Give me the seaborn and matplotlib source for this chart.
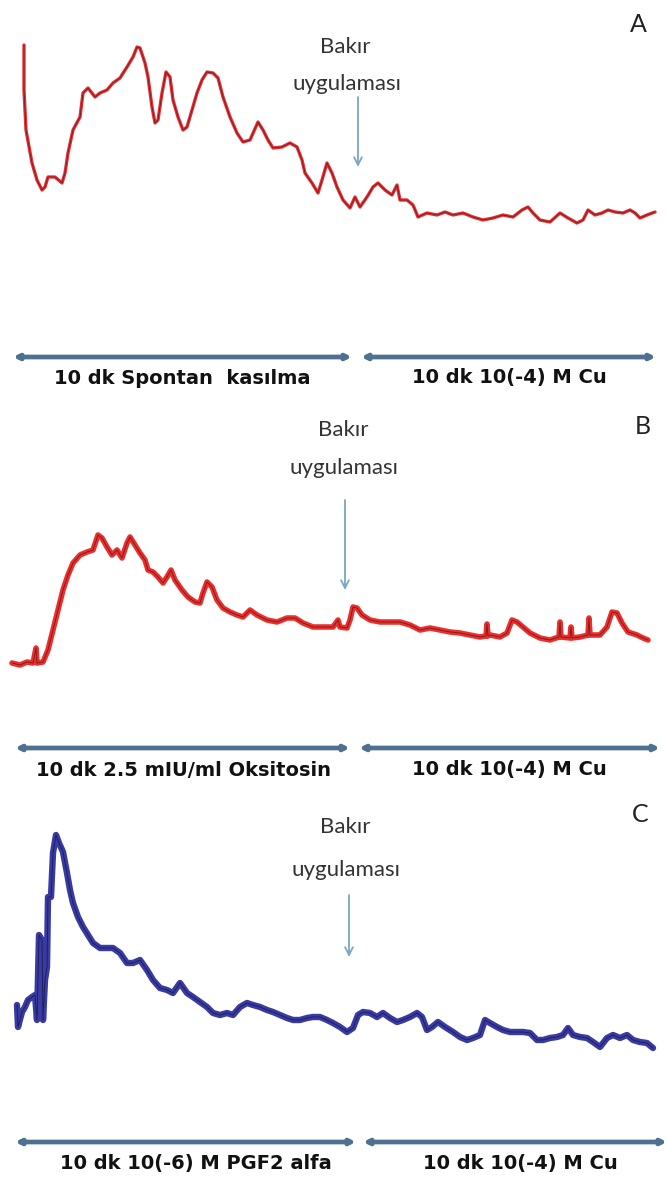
import matplotlib
matplotlib.use("Agg")
import matplotlib.pyplot as plt
import seaborn as sns

# Chart position along the recording paper (same units for all three traces)
# and the pen deflection for each panel.
a_t = [24, 24, 26, 32, 37, 42, 45, 48, 55, 62,
       65, 68, 73, 80, 83, 88, 95, 100, 107, 113,
       120, 127, 133, 137, 140, 145, 148, 152, 155, 158,
       162, 166, 170, 173, 178, 183, 187, 192, 197, 202,
       207, 213, 218, 223, 230, 237, 243, 250, 258, 263,
       268, 273, 282, 290, 297, 302, 305, 312, 318, 322,
       327, 332, 337, 343, 350, 355, 360, 367, 373, 378,
       385, 392, 397, 400, 407, 413, 418, 427, 437, 445,
       453, 463, 473, 483, 493, 503, 513, 522, 528, 533,
       540, 550, 560, 568, 577, 583, 588, 595, 602, 608,
       615, 623, 630, 635, 640, 647, 655]
a_amp = [185, 140, 100, 67, 50, 40, 43, 53, 53, 47,
         57, 77, 100, 113, 137, 142, 133, 137, 140, 147,
         152, 163, 173, 183, 182, 167, 153, 123, 107, 110,
         137, 158, 153, 130, 113, 100, 103, 120, 137, 150,
         158, 157, 152, 133, 113, 97, 88, 90, 108, 100,
         90, 82, 83, 87, 83, 70, 57, 47, 37, 50,
         67, 57, 43, 30, 22, 33, 23, 33, 43, 47,
         40, 35, 45, 30, 30, 25, 13, 17, 15, 18,
         15, 17, 13, 10, 12, 15, 13, 20, 23, 17,
         10, 8, 17, 12, 7, 10, 20, 15, 17, 20,
         18, 17, 20, 17, 12, 15, 18]

b_t = [12, 20, 27, 33, 36, 37, 43, 48, 53, 58,
       63, 68, 73, 80, 87, 93, 98, 102, 107, 112,
       117, 122, 127, 130, 135, 140, 145, 148, 153, 158,
       163, 167, 171, 175, 182, 188, 195, 200, 203, 207,
       212, 217, 223, 230, 237, 243, 250, 257, 267, 277,
       287, 295, 303, 313, 323, 333, 338, 340, 347, 350,
       353, 357, 362, 370, 380, 390, 400, 410, 420, 430,
       440, 450, 460, 470, 480, 486, 487, 488, 490, 500,
       507, 512, 517, 523, 530, 540, 550, 559, 560, 561,
       570, 571, 572, 580, 588, 589, 590, 600, 607, 612,
       617, 622, 628, 637, 643, 648]
b_amp = [17, 15, 18, 17, 32, 17, 18, 30, 50, 70,
         90, 105, 117, 125, 128, 130, 145, 142, 133, 125,
         130, 122, 137, 143, 135, 127, 120, 110, 108, 103,
         97, 103, 110, 100, 90, 83, 78, 77, 87, 98,
         93, 80, 72, 68, 65, 63, 70, 65, 60, 58,
         62, 62, 57, 53, 53, 53, 60, 53, 52, 60,
         73, 72, 65, 60, 58, 58, 58, 55, 50, 52,
         50, 48, 47, 45, 43, 44, 56, 44, 45, 43,
         47, 60, 58, 53, 47, 42, 40, 43, 58, 43,
         42, 53, 42, 43, 45, 62, 45, 45, 53, 68,
         67, 57, 48, 45, 42, 40]

c_t = [17, 18, 22, 25, 28, 32, 35, 37, 39, 42,
       43, 45, 47, 48, 51, 53, 56, 59, 63, 67,
       70, 73, 78, 83, 88, 93, 100, 107, 113, 120,
       127, 133, 140, 147, 153, 160, 167, 173, 180, 187,
       193, 200, 207, 213, 220, 227, 233, 240, 247, 253,
       260, 267, 273, 280, 287, 293, 300, 307, 313, 320,
       327, 333, 340, 347, 353, 358, 363, 370, 377, 383,
       390, 397, 403, 410, 417, 422, 427, 432, 438, 445,
       453, 460, 467, 473, 480, 485, 490, 497, 503, 510,
       517, 523, 530, 537, 543, 550, 557, 563, 568, 573,
       580, 587, 593, 600, 607, 613, 620, 627, 633, 640,
       647, 653]
c_amp = [55, 33, 48, 53, 60, 63, 65, 40, 125, 120,
         40, 80, 93, 163, 163, 207, 225, 217, 208, 187,
         170, 157, 143, 133, 125, 117, 112, 112, 112, 107,
         97, 97, 100, 90, 80, 72, 70, 67, 77, 67,
         63, 58, 53, 47, 45, 47, 45, 53, 57, 55,
         53, 50, 48, 45, 42, 40, 40, 42, 43, 43,
         40, 37, 33, 28, 32, 45, 48, 47, 43, 47,
         42, 38, 40, 43, 47, 43, 30, 33, 38, 33,
         28, 23, 20, 22, 25, 40, 37, 33, 30, 28,
         28, 28, 27, 20, 20, 22, 23, 25, 32, 25,
         23, 22, 18, 13, 22, 25, 22, 25, 20, 18,
         17, 12]

panel_letters = ["A", "B", "C"]
left_labels = ["10 dk Spontan  kasılma", "10 dk 2.5 mIU/ml Oksitosin",
               "10 dk 10(-6) M PGF2 alfa"]
right_label = "10 dk 10(-4) M Cu"
trace_colors = ["#e8262a", "#ec2320", "#2e309e"]
overlay_colors = ["#3a1414", "#3a1414", "#0d0d30"]

sns.set_theme(style="white")
plt.rcParams["font.family"] = ["Lato", "DejaVu Sans"]

W, H = 667, 1178
fig = plt.figure(figsize=(W / 100, H / 100), dpi=100)
fig.patch.set_facecolor("white")

# panel layout in picture pixels; amplitude zero sits at "base"
panels = [
    dict(top=0, bottom=390, base=230, t=a_t, amp=a_amp, lw=2.4,
         letter=(638, 25), bakir=(345, 47), uyg=(347, 84), arrow=(358, 97, 167),
         bar=357, lab=378, seg1=(13, 352), seg2=(361, 656), lab1=182, lab2=509),
    dict(top=390, bottom=785, base=680, t=b_t, amp=b_amp, lw=4.0,
         letter=(643, 427), bakir=(343, 430), uyg=(344, 468), arrow=(345, 500, 590),
         bar=748, lab=770, seg1=(15, 350), seg2=(359, 660), lab1=183, lab2=509),
    dict(top=785, bottom=1178, base=1060, t=c_t, amp=c_amp, lw=4.6,
         letter=(640, 815), bakir=(345, 827), uyg=(346, 870), arrow=(349, 895, 957),
         bar=1142, lab=1163, seg1=(15, 356), seg2=(363, 667), lab1=196, lab2=520),
]

for i, p in enumerate(panels):
    ax = fig.add_axes([0, 1 - p["bottom"] / H, 1, (p["bottom"] - p["top"]) / H])
    base = p["base"]
    ax.set_xlim(0, W)
    ax.set_ylim(base - p["bottom"], base - p["top"])
    ax.set_axis_off()

    sns.lineplot(x=p["t"], y=p["amp"], ax=ax, estimator=None, sort=False,
                 color=trace_colors[i], lw=p["lw"], alpha=0.95)
    sns.lineplot(x=p["t"], y=p["amp"], ax=ax, estimator=None, sort=False,
                 color=overlay_colors[i], lw=0.7, alpha=0.6)

    def yy(px):
        return base - px

    ax.text(p["letter"][0], yy(p["letter"][1]), panel_letters[i], fontsize=18,
            ha="center", va="center", color="#222222")
    ax.text(p["bakir"][0], yy(p["bakir"][1]), "Bakır", fontsize=16,
            ha="center", va="center", color="#333333")
    ax.text(p["uyg"][0], yy(p["uyg"][1]), "uygulaması", fontsize=16,
            ha="center", va="center", color="#333333")
    ax_x, ay0, ay1 = p["arrow"]
    ax.annotate("", xy=(ax_x, yy(ay1)), xytext=(ax_x, yy(ay0)),
                arrowprops=dict(arrowstyle="->", color="#7aa6c4", lw=1.3,
                                mutation_scale=14, shrinkA=0, shrinkB=0))

    for seg in (p["seg1"], p["seg2"]):
        ax.annotate("", xy=(seg[1], yy(p["bar"])), xytext=(seg[0], yy(p["bar"])),
                    arrowprops=dict(arrowstyle="<|-|>", color="#4f7191", lw=3.4,
                                    mutation_scale=7, shrinkA=0, shrinkB=0))
    ax.text(p["lab1"], yy(p["lab"]), left_labels[i], fontsize=14, fontweight="bold",
            family="DejaVu Sans", ha="center", va="center", color="#111111")
    ax.text(p["lab2"], yy(p["lab"]), right_label, fontsize=14, fontweight="bold",
            family="DejaVu Sans", ha="center", va="center", color="#111111")

fig.savefig("out.png", dpi=100, facecolor="white")
